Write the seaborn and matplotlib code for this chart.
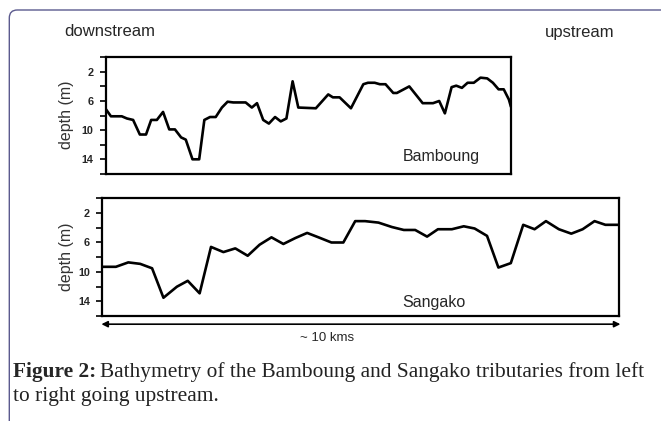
import matplotlib
matplotlib.use("Agg")
import matplotlib.pyplot as plt
from matplotlib.patches import FancyBboxPatch
import seaborn as sns

# Bamboung profile: distance from the mouth (km) and depth (m)
bamboung_km = [0.00, 0.10, 0.31, 0.41, 0.53, 0.66, 0.78, 0.88, 0.99, 1.11,
               1.23, 1.34, 1.46, 1.55, 1.68, 1.81, 1.91, 2.02, 2.13, 2.25,
               2.36, 2.47, 2.71, 2.83, 2.93, 3.05, 3.16, 3.28, 3.39, 3.50,
               3.62, 3.73, 4.07, 4.31, 4.40, 4.53, 4.75, 4.99, 5.08, 5.21,
               5.31, 5.42, 5.57, 5.64, 5.88, 6.14, 6.34, 6.46, 6.57, 6.70,
               6.79, 6.90, 7.01, 7.13, 7.26, 7.39, 7.50, 7.61, 7.71, 7.81,
               7.85]
bamboung_depth = [7.1, 8.1, 8.1, 8.4, 8.6, 10.6, 10.6, 8.6, 8.6, 7.5,
                  9.9, 9.9, 11.0, 11.3, 14.0, 14.0, 8.6, 8.2, 8.2, 6.9,
                  6.1, 6.2, 6.2, 6.9, 6.3, 8.6, 9.1, 8.2, 8.8, 8.4,
                  3.3, 6.9, 7.0, 5.1, 5.5, 5.5, 7.0, 3.7, 3.5, 3.5,
                  3.7, 3.7, 4.9, 4.9, 4.0, 6.3, 6.3, 6.0, 7.7, 4.1,
                  3.9, 4.2, 3.5, 3.5, 2.8, 2.9, 3.5, 4.4, 4.4, 5.8,
                  6.8]

# Sangako profile
sangako_km = [0.00, 0.26, 0.50, 0.73, 0.96, 1.18, 1.44, 1.65, 1.88, 2.10,
              2.34, 2.57, 2.81, 3.04, 3.27, 3.50, 3.73, 3.96, 4.18, 4.43,
              4.66, 4.89, 5.08, 5.34, 5.60, 5.83, 6.05, 6.28, 6.49, 6.76,
              6.99, 7.20, 7.44, 7.66, 7.90, 8.14, 8.36, 8.58, 8.83, 9.07,
              9.29, 9.52, 9.73, 10.00]
sangako_depth = [9.3, 9.3, 8.7, 8.9, 9.5, 13.5, 12.0, 11.2, 12.9, 6.6,
                 7.3, 6.8, 7.8, 6.3, 5.3, 6.2, 5.4, 4.7, 5.3, 6.0,
                 6.0, 3.1, 3.1, 3.3, 3.9, 4.3, 4.3, 5.2, 4.2, 4.2,
                 3.8, 4.1, 5.1, 9.4, 8.8, 3.6, 4.2, 3.1, 4.2, 4.8,
                 4.2, 3.1, 3.6, 3.6]

depth_ticks = [0, 2, 4, 6, 8, 10, 12, 14, 16]
depth_labels = ["", "2", "", "6", "", "10", "", "14", ""]

sns.set_style("white")
plt.rcParams["font.family"] = ["Liberation Sans", "DejaVu Sans"]

fig = plt.figure(figsize=(6.61, 4.21), dpi=100)

# rounded frame of the figure page
frame = FancyBboxPatch((0.093, -1.0), 8.0, 5.11,
                       boxstyle="round,pad=0,rounding_size=0.08",
                       transform=fig.dpi_scale_trans, fill=False,
                       edgecolor="#5b5a8e", linewidth=1.0)
fig.patches.append(frame)

ax1 = fig.add_axes([0.160, 0.587, 0.613, 0.277])
ax2 = fig.add_axes([0.155, 0.249, 0.782, 0.280])

sns.lineplot(x=bamboung_km, y=bamboung_depth, ax=ax1, color="black", linewidth=1.9)
sns.lineplot(x=sangako_km, y=sangako_depth, ax=ax2, color="black", linewidth=1.9)

ax1.set_xlim(0, 7.85)
ax2.set_xlim(0, 10)

for ax in (ax1, ax2):
    ax.set_ylim(16, 0)
    ax.set_yticks(depth_ticks)
    ax.set_yticklabels(depth_labels, fontweight="bold", fontsize=7.8)
    ax.set_xticks([])
    ax.tick_params(axis="y", direction="out", length=4, width=1.2, pad=5,
                   left=True, color="black")
    for s in ax.spines.values():
        s.set_visible(True)
        s.set_color("black")
        s.set_linewidth(1.6)
    ax.set_xlabel("")
    ax.set_ylabel("")

fig.text(403 / 661, 1 - 157 / 421, "Bamboung", fontsize=11.5, va="center", ha="left")
fig.text(402 / 661, 1 - 303 / 421, "Sangako", fontsize=11.5, va="center", ha="left")

fig.text(66 / 661, 1 - 115 / 421, "depth (m)", fontsize=11.5, rotation=90,
         ha="center", va="center", color="#333333")
fig.text(66 / 661, 1 - 257 / 421, "depth (m)", fontsize=11.5, rotation=90,
         ha="center", va="center", color="#333333")

fig.text(64 / 661, 1 - 32 / 421, "downstream", fontsize=12, va="center", ha="left")
fig.text(614 / 661, 1 - 32 / 421, "upstream", fontsize=12, va="center", ha="right")

# ~10 km scale arrow under the Sangako panel
ax2.annotate("", xy=(10.02, -0.068), xytext=(-0.02, -0.068),
             xycoords=ax2.get_xaxis_transform(),
             arrowprops=dict(arrowstyle="<|-|>", color="black", lw=1.2,
                             mutation_scale=9, shrinkA=0, shrinkB=0),
             annotation_clip=False)
fig.text(327 / 661, 1 - 338 / 421, "~ 10 kms", fontsize=9.5, ha="center", va="center")

# caption: bold label followed by the plain sentence
serif = ["Liberation Serif", "DejaVu Serif"]
cap_size = 15.4
label = fig.text(13 / 661, 1 - 372 / 421, "Figure 2:", fontsize=cap_size,
                 fontweight="bold", family=serif, va="center", ha="left")
renderer = fig.canvas.get_renderer()
bbox = label.get_window_extent(renderer)
gap = 4
fig.text((bbox.x1 + gap) / 661, 1 - 372 / 421,
         "Bathymetry of the Bamboung and Sangako tributaries from left",
         fontsize=cap_size, family=serif, va="center", ha="left", color="#222222")
fig.text(13 / 661, 1 - 397 / 421, "to right going upstream.", fontsize=cap_size,
         family=serif, va="center", ha="left", color="#222222")

fig.savefig("out.png", dpi=100)
